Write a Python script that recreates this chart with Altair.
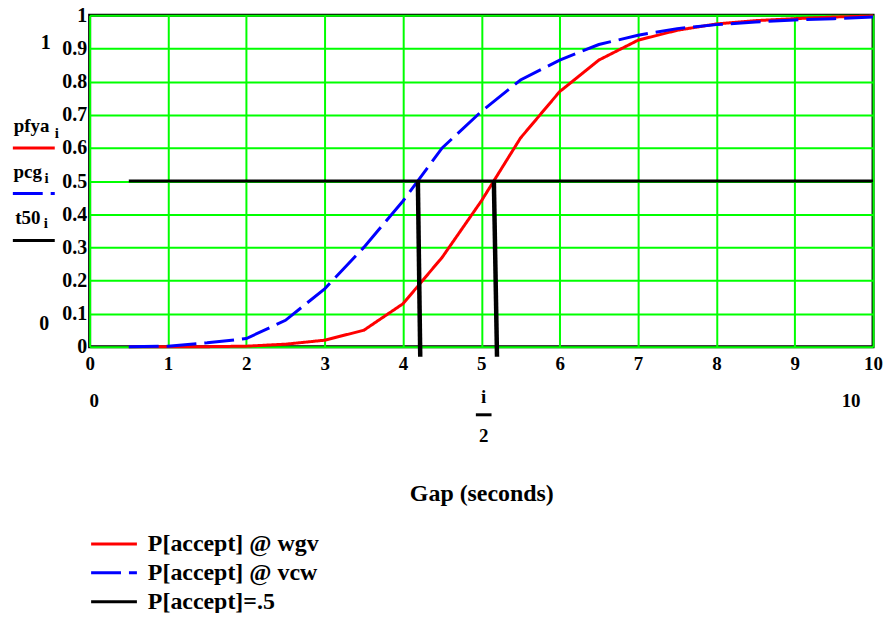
import altair as alt
import pandas as pd

# ---- data ----
gap = [0.5, 1, 1.5, 2, 2.5, 3, 3.5, 4, 4.5, 5, 5.5, 6, 6.5, 7, 7.5, 8, 8.5, 9, 9.5, 10]
pfya = [0.0, 0.0, 0.0005, 0.002, 0.008, 0.02, 0.05, 0.13, 0.27, 0.44, 0.63, 0.77,
        0.865, 0.925, 0.955, 0.974, 0.984, 0.99, 0.995, 0.998]
pcg = [0.0, 0.002, 0.012, 0.025, 0.08, 0.175, 0.30, 0.44, 0.60, 0.71, 0.805, 0.865,
       0.912, 0.94, 0.96, 0.972, 0.98, 0.986, 0.99, 0.995]
t50 = [0.5] * len(gap)

x_ticks = list(range(0, 11))
y_ticks = [0, 0.1, 0.2, 0.3, 0.4, 0.5, 0.6, 0.7, 0.8, 0.9, 1]

series_names = ["P[accept] @ wgv", "P[accept] @ vcw", "P[accept]=.5"]
series_colors = ["#FF0000", "#0000FF", "#000000"]
series_dash = [[1, 0], [30, 8], [1, 0]]
legend_dash = [[1, 0], [31, 8, 3, 10], [1, 0]]

# vertical drop lines at the 50% crossings
drop_seg = ["a", "a", "b", "b"]
drop_x = [4.19, 4.22, 5.16, 5.20]
drop_y = [0.5, -0.03, 0.5, -0.03]

# Mathcad-style annotations (data coordinates)
left_text = ["1", "0"]
left_text_x = [-0.56, -0.58]
left_text_y = [0.915, 0.068]

trace_names = ["pfya", "pcg", "t50"]
trace_name_x = [-0.74, -0.79, -0.79]
trace_name_y = [0.648, 0.508, 0.372]
trace_sub_x = [-0.42, -0.55, -0.56]
trace_sub_y = [0.630, 0.493, 0.357]
trace_line_y = [0.60, 0.4625, 0.321]
trace_line_x1 = [-0.98, -0.98, -0.98]
trace_line_x2 = [-0.445, -0.445, -0.445]

below_text = ["0", "10", "i", "2"]
below_x = [0.06, 9.72, 5.03, 5.03]
below_y = [-0.162, -0.162, -0.150, -0.268]
frac_bar_x = [4.93]
frac_bar_x2 = [5.13]
frac_bar_y = [-0.205]

FONT = "Liberation Serif"

# ---- tables ----
rows = []
for name, vals in zip(series_names, [pfya, pcg, t50]):
    for g, v in zip(gap, vals):
        rows.append({"series": name, "gap": g, "p": v})
lines_df = pd.DataFrame(rows)

drops_df = pd.DataFrame({"seg": drop_seg, "gap": drop_x, "p": drop_y})

x_scale = alt.Scale(domain=[0, 10], nice=False, zero=False)
y_scale = alt.Scale(domain=[0, 1], nice=False, zero=False)

x_axis = alt.Axis(values=x_ticks, title="Gap (seconds)", format="d", labelOverlap=False,
                  labelFont=FONT, labelFontSize=19, labelFontWeight="bold", labelColor="black",
                  labelPadding=8, labelFlush=False, ticks=False, domain=False, grid=True,
                  gridColor="#00FF00", gridWidth=2, gridOpacity=1,
                  titleFont=FONT, titleFontSize=24, titleFontWeight="bold", titleColor="black",
                  titlePadding=108)
y_axis = alt.Axis(values=y_ticks, title=None, labelOverlap=False,
                  labelExpr="datum.value == 0 ? '0' : datum.value == 1 ? '1' : format(datum.value, '.1f')",
                  labelFont=FONT, labelFontSize=20, labelFontWeight="bold", labelColor="black",
                  labelPadding=3, labelFlush=False, ticks=False, domain=False, grid=True,
                  gridColor="#00FF00", gridWidth=2, gridOpacity=1)


def X(field):
    return alt.X(field, scale=x_scale, axis=x_axis)


def Y(field):
    return alt.Y(field, scale=y_scale, axis=y_axis)


lines = alt.Chart(lines_df).mark_line(strokeWidth=3, strokeCap="butt").encode(
    x=X("gap:Q"),
    y=Y("p:Q"),
    color=alt.Color("series:N",
                    scale=alt.Scale(domain=series_names, range=series_colors),
                    legend=alt.Legend(title=None, orient="none", legendX=11.5, legendY=518,
                                      symbolType="M-2,0L2,0", symbolSize=529,
                                      symbolStrokeWidth=3, labelFont=FONT,
                                      labelFontSize=24, labelFontWeight="bold",
                                      labelColor="black", labelOffset=21,
                                      rowPadding=4, labelLimit=400)),
    strokeDash=alt.StrokeDash("series:N",
                              scale=alt.Scale(domain=series_names, range=series_dash),
                              legend=None),
    order=alt.Order("gap:Q"),
)

drops = alt.Chart(drops_df).mark_line(strokeWidth=4.5, color="black", strokeCap="butt").encode(
    x=X("gap:Q"), y=Y("p:Q"), detail="seg:N")

left_df = pd.DataFrame({"t": left_text, "x": left_text_x, "y": left_text_y})
left_txt = alt.Chart(left_df).mark_text(font=FONT, fontSize=20, fontWeight="bold",
                                        color="black", align="center", baseline="middle").encode(
    x=X("x:Q"), y=Y("y:Q"), text="t:N")

names_df = pd.DataFrame({"t": trace_names, "x": trace_name_x, "y": trace_name_y,
                         "sx": trace_sub_x, "sy": trace_sub_y,
                         "ly": trace_line_y, "lx1": trace_line_x1, "lx2": trace_line_x2,
                         "c": series_colors, "s": series_names})
name_txt = alt.Chart(names_df).mark_text(font=FONT, fontSize=19, fontWeight="bold",
                                         color="black", align="center", baseline="alphabetic").encode(
    x=X("x:Q"), y=Y("y:Q"), text="t:N")
sub_txt = alt.Chart(names_df).mark_text(font=FONT, fontSize=15, fontWeight="bold",
                                        color="black", align="center", baseline="alphabetic",
                                        text="i").encode(
    x=X("sx:Q"), y=Y("sy:Q"))
name_lines = alt.Chart(names_df).mark_rule(strokeWidth=3).encode(
    x=X("lx1:Q"), x2="lx2:Q", y=Y("ly:Q"),
    color=alt.Color("c:N", scale=None),
    strokeDash=alt.StrokeDash("s:N",
                              scale=alt.Scale(domain=series_names, range=legend_dash),
                              legend=None))

below_df = pd.DataFrame({"t": below_text, "x": below_x, "y": below_y})
below_txt = alt.Chart(below_df).mark_text(font=FONT, fontSize=19, fontWeight="bold",
                                          color="black", align="center", baseline="middle").encode(
    x=X("x:Q"), y=Y("y:Q"), text="t:N")
bar_df = pd.DataFrame({"x": frac_bar_x, "x2": frac_bar_x2, "y": frac_bar_y})
frac_bar = alt.Chart(bar_df).mark_rule(strokeWidth=3, color="black").encode(
    x=X("x:Q"), x2="x2:Q", y=Y("y:Q"))

chart = alt.layer(lines, drops, left_txt, name_txt, sub_txt, name_lines, below_txt, frac_bar).properties(
    width=787, height=333,
    autosize=alt.AutoSizeParams(type="none"),
    padding={"left": 82, "top": 6, "right": 12, "bottom": 266},
    background="white",
).configure(font=FONT).configure_view(stroke="black", strokeWidth=3)

chart.save("out.html", embed_options={"renderer": "svg", "actions": False})
